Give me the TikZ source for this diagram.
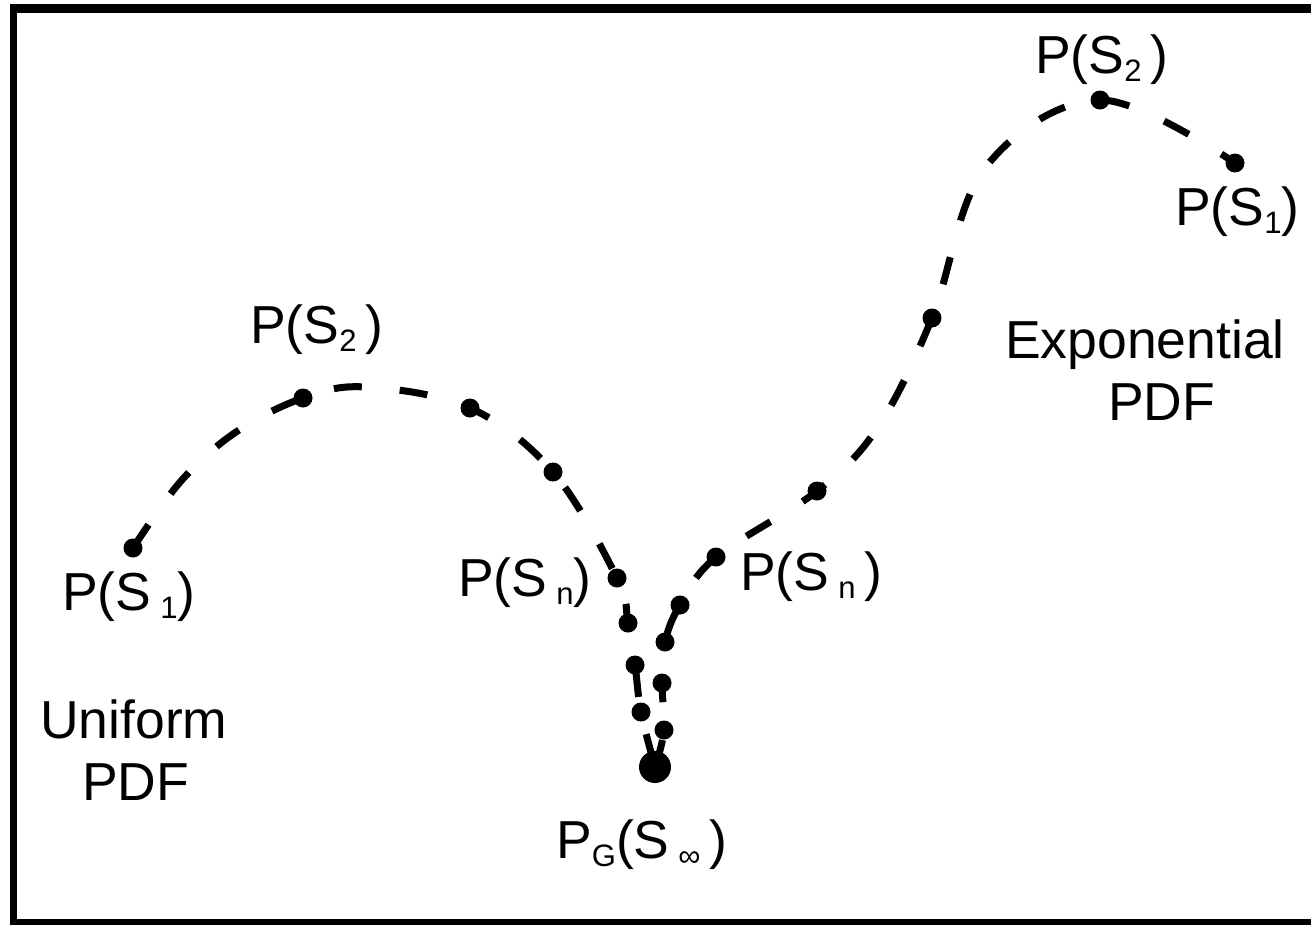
\documentclass[tikz,border=0pt]{standalone}
\usepackage{fontspec}
\setmainfont{Liberation Sans}
\newcommand\subs[2][8pt]{\raisebox{-#1}{\fontsize{31}{31}\selectfont #2}}
\tikzset{
  dotnode/.style={circle,fill=black,inner sep=0pt,minimum size=19pt},
  bigdot/.style={circle,fill=black,inner sep=0pt,minimum size=32pt},
  curve/.style={line width=7pt,dash pattern=on 28pt off 38pt},
  lbl/.style={anchor=base west,inner sep=0pt,font=\fontsize{53.5}{62}\selectfont}
}
\begin{document}
\begin{tikzpicture}[x=1pt,y=-1pt]
\useasboundingbox (0,0) rectangle (1311,924);
\clip (0,0) rectangle (1311,924);
% frame
\fill[black] (10,4) rectangle (1340,930);
\fill[white] (16.7,12.7) rectangle (1330,919);
% left (uniform) curve
\node[dotnode] (l1) at (133,548) {};
\coordinate (la) at (181,481);
\coordinate (lb) at (236,432);
\node[dotnode] (l2) at (303,398) {};
\coordinate (lc) at (366,387);
\node[dotnode] (l3) at (470,408) {};
\node[dotnode] (l4) at (553,472) {};
\node[dotnode] (l5) at (617,578) {};
\node[dotnode] (l6) at (628,623) {};
\node[dotnode] (l7) at (635,665) {};
\node[dotnode] (l8) at (641,712) {};
\node[bigdot] (g) at (655,767) {};
% right (exponential) curve
\node[dotnode] (r1) at (664,730) {};
\node[dotnode] (r2) at (662,683) {};
\node[dotnode] (r3) at (665,642) {};
\node[dotnode] (r4) at (680,605) {};
\node[dotnode] (r5) at (716,557) {};
\node[dotnode] (r6) at (817,491) {};
\coordinate (ra) at (878,427);
\node[dotnode] (r7) at (932,318) {};
\coordinate (rb) at (985,168);
\node[dotnode] (r8) at (1100,100) {};
\node[dotnode] (r9) at (1235,163) {};
\draw[curve] plot[smooth,tension=0.6] coordinates {(l1.center) (la) (lb) (l2.center) (lc) (l3.center) (l4.center) (l5.center) (l6.center) (l7.center) (l8.center) (g.center)};
\draw[curve] plot[smooth,tension=0.6] coordinates {(g.center) (r1.center) (r2.center) (r3.center) (r4.center) (r5.center) (r6.center) (ra) (r7.center) (rb) (r8.center) (r9.center)};
% labels
\node[lbl] (tS2) at (1035,73) {P(S\subs{2}\,)};
\node[lbl] (tS1) at (1175,225) {P(S\subs{1})};
\node[lbl] (tExp) at (1005,358) {Exponential};
\node[lbl] (tExpb) at (1108,420) {PDF};
\node[lbl] (uS2) at (250,343) {P(S\subs{2}\,)};
\node[lbl] (uS1) at (62,610) {P(S\,\subs{1})};
\node[lbl] (uSn) at (458,596) {P(S\,\subs{n})};
\node[lbl] (eSn) at (740,590) {P(S\,\subs{n}\,)};
\node[lbl] (uni) at (40,738) {Uniform};
\node[lbl] (unib) at (82,800) {PDF};
\node[lbl] (pg) at (556,858) {P\subs{G}(S\,\subs{∞}\,)};
\end{tikzpicture}
\end{document}
